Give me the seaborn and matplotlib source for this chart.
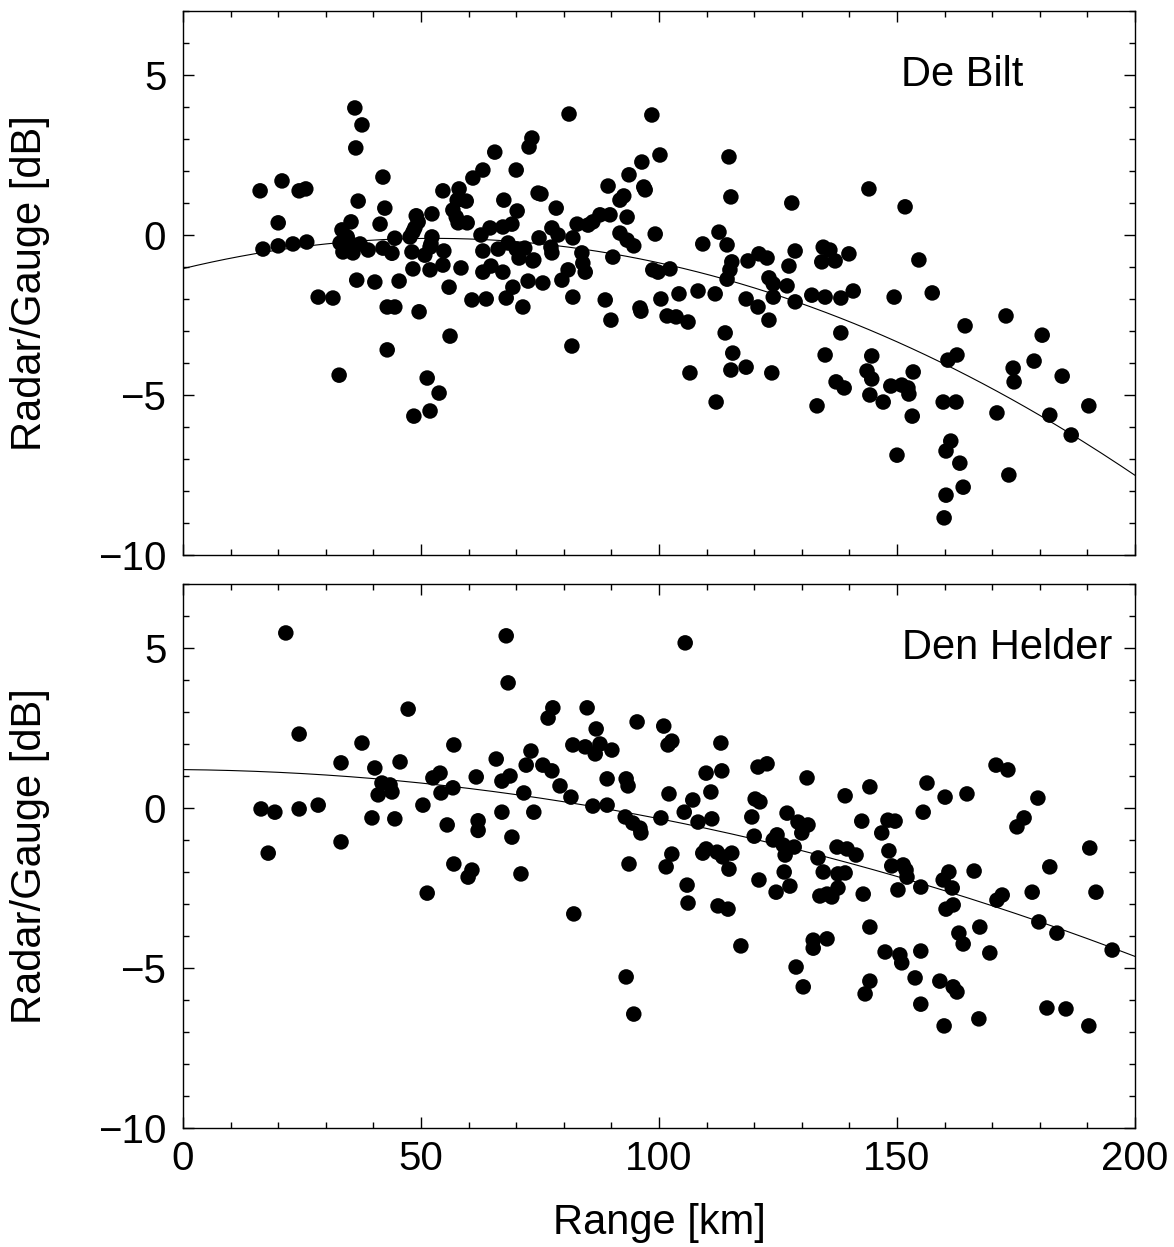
import numpy as np
import pandas as pd
import matplotlib
matplotlib.use("Agg")
import matplotlib.pyplot as plt
import seaborn as sns
from matplotlib.ticker import MultipleLocator

# ---------------- data ----------------
debilt_range = [
    16.2, 20.8, 24.4, 25.8, 36.1, 37.6, 36.3, 42.0, 36.8, 20.0, 42.4, 41.4, 35.3, 33.4, 16.8, 20.0, 23.1, 26.0,
    33.0, 34.5, 35.7, 33.6, 35.7, 37.2, 38.9, 42.0, 43.9, 44.5, 36.5, 40.3, 45.4, 28.4, 31.5, 42.9, 44.5,
    49.0, 52.3, 54.6, 58.0, 57.6, 59.5, 56.7, 57.4, 57.8, 59.7, 48.7, 49.4, 47.7, 48.3, 52.3, 52.1, 48.1, 50.8,
    51.9, 54.8, 54.6, 51.9, 48.3, 55.9, 58.4,
    60.9, 63.0, 65.5, 70.0, 73.3, 72.7, 67.4, 70.2, 69.1, 67.2, 64.5, 62.6, 74.6, 63.0, 66.2, 68.3, 70.0, 71.8,
    70.6, 73.5, 63.0, 64.7, 67.2, 72.5, 69.3, 60.7, 63.7, 67.9, 71.4,
    81.1, 98.5, 100.2, 96.4, 93.7, 96.8, 97.1, 114.7, 115.1, 127.9, 89.3, 92.6, 91.8, 93.3, 75.2, 78.4, 82.8,
    85.1, 87.6, 89.7, 86.1, 77.5, 78.8, 74.8, 81.9, 91.8, 93.3, 94.7, 99.2, 77.3, 77.5, 73.7, 83.8, 84.0, 84.5,
    80.9, 79.6, 90.3, 75.6, 81.9, 88.7, 96.0, 98.7, 99.8, 102.3,
    109.2, 112.6, 114.3, 115.3, 114.9, 114.3, 118.7, 121.0, 122.7, 128.6, 127.3, 134.5, 134.2, 123.1, 124.0,
    126.9, 104.2, 108.2, 111.8, 100.4, 118.3, 120.8, 124.0, 128.6, 132.1, 134.9,
    144.1, 151.7, 135.9, 137.0, 139.9, 154.6, 138.2, 140.8, 149.4, 157.4,
    49.6, 56.1, 42.9, 32.8, 51.3, 53.8, 51.9, 48.5,
    89.9, 96.2, 101.7, 103.6, 106.1, 81.7, 113.9, 115.5, 106.5, 115.1, 118.3, 123.7, 112.0, 133.2, 134.9, 123.1,
    138.2, 144.7, 143.7, 144.7, 137.2, 138.9, 144.3, 147.1, 148.7, 151.0, 152.3, 152.5, 153.4, 153.2,
    164.3, 172.9, 180.5, 178.8, 184.7, 174.4, 174.6, 160.7, 162.6, 159.7, 162.4, 171.0, 182.1, 190.3, 186.6,
    150.0, 161.3, 160.3, 163.2, 173.5, 163.9, 160.3, 159.9,
]
debilt_ratio = [
    1.38, 1.69, 1.38, 1.44, 3.97, 3.44, 2.72, 1.81, 1.06, 0.38, 0.84, 0.34, 0.41, 0.16, -0.44, -0.34, -0.28, -0.22,
    -0.25, -0.06, -0.31, -0.53, -0.56, -0.28, -0.47, -0.41, -0.57, -0.10, -1.41, -1.47, -1.44, -1.94, -1.97, -2.25, -2.25,
    0.60, 0.66, 1.38, 1.44, 1.09, 1.06, 0.78, 0.56, 0.38, 0.38, 0.22, 0.41, -0.06, 0.09, -0.06, -0.28, -0.53, -0.63,
    -0.38, -0.50, -0.94, -1.09, -1.06, -1.63, -1.03,
    1.78, 2.03, 2.59, 2.03, 3.03, 2.75, 1.09, 0.75, 0.34, 0.25, 0.22, 0.00, 1.31, -0.50, -0.44, -0.25, -0.44, -0.41,
    -0.72, -0.81, -1.16, -0.97, -1.16, -1.44, -1.63, -2.03, -2.00, -1.97, -2.25,
    3.78, 3.75, 2.50, 2.28, 1.88, 1.50, 1.41, 2.44, 1.19, 1.00, 1.53, 1.22, 1.09, 0.56, 1.28, 0.84, 0.34,
    0.31, 0.63, 0.63, 0.41, 0.22, 0.00, -0.09, -0.09, 0.06, -0.16, -0.34, 0.03, -0.38, -0.56, -0.78, -0.56, -0.88, -1.16,
    -1.09, -1.41, -0.69, -1.50, -1.94, -2.03, -2.28, -1.09, -1.16, -1.06,
    -0.28, 0.09, -0.31, -0.84, -1.09, -1.38, -0.81, -0.59, -0.72, -0.50, -0.97, -0.38, -0.84, -1.34, -1.53,
    -1.59, -1.84, -1.75, -1.84, -2.00, -2.00, -2.25, -1.94, -2.09, -1.88, -1.94,
    1.44, 0.88, -0.47, -0.81, -0.59, -0.78, -1.97, -1.75, -1.94, -1.81,
    -2.40, -3.16, -3.59, -4.38, -4.47, -4.94, -5.50, -5.66,
    -2.66, -2.38, -2.53, -2.56, -2.72, -3.47, -3.06, -3.69, -4.31, -4.22, -4.13, -4.31, -5.22, -5.34, -3.75, -2.66,
    -3.06, -3.78, -4.25, -4.50, -4.59, -4.78, -5.00, -5.22, -4.72, -4.69, -4.78, -4.97, -4.28, -5.66,
    -2.84, -2.53, -3.13, -3.94, -4.41, -4.16, -4.59, -3.91, -3.75, -5.22, -5.22, -5.56, -5.63, -5.34, -6.25,
    -6.88, -6.44, -6.75, -7.13, -7.50, -7.88, -8.13, -8.84,
]

denhelder_range = [
    21.6, 67.9, 68.3, 47.3, 24.4, 37.6, 56.9, 33.2, 40.3, 45.6, 65.8, 73.1, 72.1, 54.0, 52.5, 61.6, 68.7, 67.0,
    41.8, 43.5, 41.0, 43.9, 56.7, 54.2, 71.6, 16.4, 19.3, 24.4, 28.4, 50.4, 67.0, 73.7, 39.7, 44.5, 55.5, 62.0, 62.0,
    33.2, 17.9, 69.1, 56.9, 60.7, 59.9, 71.0, 51.3,
    105.5, 77.7, 76.7, 84.9, 86.8, 95.4, 101.0, 102.7, 101.9, 113.0, 81.9, 84.5, 87.6, 90.1, 86.6, 75.6, 77.5,
    89.1, 93.1, 93.5, 79.2, 81.5, 86.1, 89.1, 92.9, 94.5, 96.0, 100.4, 102.1, 107.1, 105.3, 108.2, 109.9, 113.2,
    110.9, 111.1, 120.8, 122.7, 131.1, 120.2, 121.2, 119.5, 126.9, 129.2, 131.3,
    96.2, 120.0, 124.8, 124.0, 126.1, 128.4, 126.5, 130.0, 133.4, 93.7, 102.7, 101.5, 109.2, 109.9, 112.2, 113.4,
    115.3, 114.7, 121.0, 126.3, 124.6, 127.5, 134.5, 105.9, 106.1, 112.4, 114.5, 133.8, 135.3, 82.1, 117.2, 132.4,
    132.4, 135.3, 128.8, 130.3, 93.1, 94.7,
    170.8, 173.3, 139.1, 144.3, 156.3, 160.1, 164.7, 179.6, 155.5, 142.6, 148.1, 149.6, 176.7, 175.2,
    146.8, 190.5, 137.4, 139.5, 141.4, 148.3, 148.9, 151.3, 151.9, 152.1, 137.6, 139.1, 136.3, 137.6, 142.9, 150.2,
    155.0, 160.9, 159.7, 161.6, 166.2, 182.1, 191.8, 172.1, 171.0, 178.4, 161.8, 160.3, 179.8, 183.6, 167.4, 163.0,
    163.9, 144.3, 169.5, 195.2, 147.5, 150.6, 151.0, 155.0, 144.3, 143.3, 153.8, 159.0, 161.8, 162.6, 155.0, 159.9,
    167.2, 181.5, 185.5, 190.3,
]
denhelder_ratio = [
    5.47, 5.38, 3.91, 3.09, 2.31, 2.03, 1.97, 1.41, 1.25, 1.44, 1.53, 1.78, 1.34, 1.09, 0.94, 0.97, 1.00, 0.84,
    0.78, 0.72, 0.41, 0.50, 0.63, 0.47, 0.47, -0.03, -0.13, -0.03, 0.09, 0.09, -0.13, -0.13, -0.31, -0.34, -0.53, -0.40, -0.70,
    -1.06, -1.41, -0.91, -1.75, -1.94, -2.16, -2.06, -2.66,
    5.16, 3.13, 2.81, 3.13, 2.47, 2.69, 2.56, 2.09, 1.97, 2.03, 1.97, 1.91, 2.00, 1.81, 1.69, 1.34, 1.16,
    0.91, 0.91, 0.69, 0.69, 0.34, 0.06, 0.09, -0.28, -0.47, -0.63, -0.31, 0.44, 0.25, -0.13, -0.44, 1.09, 1.16,
    0.50, -0.34, 1.28, 1.38, 0.94, 0.28, 0.19, -0.28, -0.16, -0.44, -0.53,
    -0.78, -0.88, -0.84, -1.00, -1.16, -1.22, -1.47, -0.78, -1.56, -1.75, -1.44, -1.84, -1.41, -1.28, -1.38, -1.53,
    -1.41, -1.91, -2.25, -2.00, -2.63, -2.44, -2.00, -2.41, -2.97, -3.06, -3.16, -2.75, -2.69, -3.31, -4.31, -4.13,
    -4.38, -4.09, -4.97, -5.59, -5.28, -6.44,
    1.34, 1.19, 0.38, 0.66, 0.78, 0.34, 0.44, 0.31, -0.13, -0.41, -0.38, -0.41, -0.31, -0.59,
    -0.78, -1.25, -1.22, -1.28, -1.47, -1.34, -1.81, -1.78, -1.94, -2.16, -2.06, -2.03, -2.78, -2.50, -2.69, -2.56,
    -2.47, -2.00, -2.25, -2.50, -1.97, -1.84, -2.63, -2.72, -2.88, -2.63, -3.03, -3.16, -3.56, -3.91, -3.72, -3.91,
    -4.25, -3.72, -4.53, -4.44, -4.50, -4.59, -4.84, -4.47, -5.41, -5.81, -5.31, -5.41, -5.59, -5.75, -6.13, -6.81,
    -6.59, -6.25, -6.28, -6.81,
]

# quadratic fit coefficients (c0, c1, c2)
debilt_fit_coef = [-1.05, 0.0359, -3.41e-4]
denhelder_fit_coef = [1.20, -0.00147, -1.386e-4]

station_names = ["De Bilt", "Den Helder"]
x_ticks = [0, 50, 100, 150, 200]
y_ticks = [-10, -5, 0, 5]

# ---------------- style ----------------
sns.set_style("ticks")
plt.rcParams["font.family"] = ["Liberation Sans", "DejaVu Sans"]
plt.rcParams["font.size"] = 29
plt.rcParams["axes.linewidth"] = 1.0
plt.rcParams["text.color"] = "black"
plt.rcParams["axes.labelcolor"] = "black"
plt.rcParams["xtick.color"] = "black"
plt.rcParams["ytick.color"] = "black"
plt.rcParams["axes.edgecolor"] = "black"

W, H = 1174, 1247
fig = plt.figure(figsize=(W / 100, H / 100), dpi=100)
ax1 = fig.add_axes([183 / W, 1 - 555 / H, (1135 - 183) / W, 544 / H])
ax2 = fig.add_axes([183 / W, 1 - 1128 / H, (1135 - 183) / W, 544 / H])

fit_x = np.linspace(0, 200, 201)

panels = [
    (ax1, debilt_range, debilt_ratio, debilt_fit_coef, station_names[0], 176.5),
    (ax2, denhelder_range, denhelder_ratio, denhelder_fit_coef, station_names[1], 195.3),
]

for ax, xr, yr, coef, name, tx in panels:
    df = pd.DataFrame({"range": xr, "ratio": yr})
    fit_y = coef[0] + coef[1] * fit_x + coef[2] * fit_x ** 2
    sns.lineplot(x=fit_x, y=fit_y, ax=ax, color="black", linewidth=0.8, zorder=2)
    sns.scatterplot(data=df, x="range", y="ratio", ax=ax, color="black", s=125,
                    edgecolor="none", linewidth=0, legend=False, zorder=3)
    ax.set_xlim(0, 200)
    ax.set_ylim(-10, 7)
    ax.set_xticks(x_ticks)
    ax.set_yticks(y_ticks)
    ax.xaxis.set_minor_locator(MultipleLocator(10))
    ax.yaxis.set_minor_locator(MultipleLocator(1))
    ax.tick_params(which="both", direction="in", top=True, right=True,
                   bottom=True, left=True, width=1.0, colors="black", labelcolor="black")
    ax.tick_params(which="major", length=8, labelsize=29)
    ax.tick_params(which="minor", length=4)
    ax.tick_params(axis="y", which="major", pad=12)
    ax.tick_params(axis="x", which="major", pad=9)
    for sp in ax.spines.values():
        sp.set_visible(True)
        sp.set_color("black")
        sp.set_linewidth(1.0)
    ax.set_ylabel("Radar/Gauge [dB]", fontsize=30, color="black")
    ax.yaxis.set_label_coords(-0.14, 0.5)
    ax.set_xlabel("")
    ax.text(tx, 5.0, name, ha="right", va="center", fontsize=30, color="black")

ax1.tick_params(labelbottom=False)
ax2.set_xlabel("Range [km]", fontsize=30, color="black")
ax2.xaxis.set_label_coords(0.5, -0.138)

fig.savefig("out.png", dpi=100)
